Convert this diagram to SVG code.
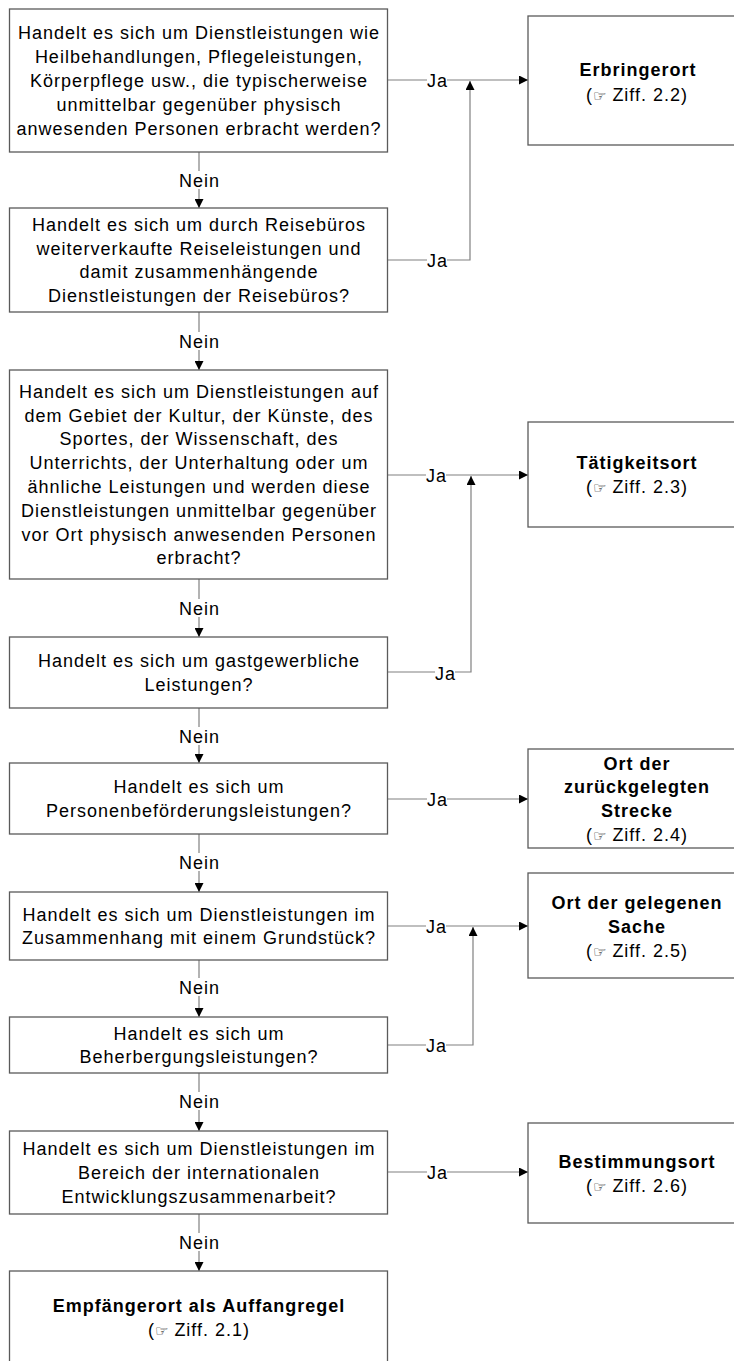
<svg xmlns="http://www.w3.org/2000/svg" width="734" height="1361" viewBox="0 0 734 1361">
<style>
.box{fill:#fff;stroke:#5a5a5a;stroke-width:1.3}
.t{font-family:"Liberation Sans",Arial,sans-serif;font-size:18px;letter-spacing:1px;fill:#000;text-anchor:middle}
.b{font-weight:bold}
.hand{font-family:"DejaVu Sans",sans-serif;font-size:15px;letter-spacing:0}
.ln{fill:none;stroke:#808080;stroke-width:1.2}
.lbg{fill:#fff}
</style>
<defs>
<marker id="ah" viewBox="0 0 10 10" refX="10" refY="5" markerWidth="10" markerHeight="9" markerUnits="userSpaceOnUse" orient="auto">
<path d="M0,0 L10,5 L0,10 z" fill="#000"/>
</marker>
</defs>
<rect width="734" height="1361" fill="#fff"/>

<g id="connectors">
<path class="ln" d="M199,152 V208" marker-end="url(#ah)"/>
<path class="ln" d="M199,312 V370" marker-end="url(#ah)"/>
<path class="ln" d="M199,579 V637" marker-end="url(#ah)"/>
<path class="ln" d="M199,708 V763" marker-end="url(#ah)"/>
<path class="ln" d="M199,834 V892" marker-end="url(#ah)"/>
<path class="ln" d="M199,960 V1017" marker-end="url(#ah)"/>
<path class="ln" d="M199,1073 V1131" marker-end="url(#ah)"/>
<path class="ln" d="M199,1214 V1271" marker-end="url(#ah)"/>

<path class="ln" d="M387.5,80 H528" marker-end="url(#ah)"/>
<path class="ln" d="M387.5,260 H470 V81" marker-end="url(#ah)"/>
<path class="ln" d="M387.5,475 H528" marker-end="url(#ah)"/>
<path class="ln" d="M387.5,672 H471 V476" marker-end="url(#ah)"/>
<path class="ln" d="M387.5,799 H528" marker-end="url(#ah)"/>
<path class="ln" d="M387.5,926 H528" marker-end="url(#ah)"/>
<path class="ln" d="M387.5,1045 H473 V927" marker-end="url(#ah)"/>
<path class="ln" d="M387.5,1172 H528" marker-end="url(#ah)"/>

<g id="labels">
<rect class="lbg" x="178" y="171" width="42" height="18"/><text class="t" x="199.5" y="186.5">Nein</text>
<rect class="lbg" x="178" y="332" width="42" height="18"/><text class="t" x="199.5" y="347.5">Nein</text>
<rect class="lbg" x="178" y="599" width="42" height="18"/><text class="t" x="199.5" y="614.5">Nein</text>
<rect class="lbg" x="178" y="727" width="42" height="18"/><text class="t" x="199.5" y="742.5">Nein</text>
<rect class="lbg" x="178" y="853" width="42" height="18"/><text class="t" x="199.5" y="868.5">Nein</text>
<rect class="lbg" x="178" y="978" width="42" height="18"/><text class="t" x="199.5" y="993.5">Nein</text>
<rect class="lbg" x="178" y="1092" width="42" height="18"/><text class="t" x="199.5" y="1107.5">Nein</text>
<rect class="lbg" x="178" y="1233" width="42" height="18"/><text class="t" x="199.5" y="1248.5">Nein</text>

<rect class="lbg" x="427" y="73" width="20" height="15"/><text class="t" x="437.5" y="87">Ja</text>
<rect class="lbg" x="427" y="253" width="20" height="15"/><text class="t" x="437.5" y="267">Ja</text>
<rect class="lbg" x="426" y="468" width="20" height="15"/><text class="t" x="436.5" y="482">Ja</text>
<rect class="lbg" x="435" y="666" width="20" height="15"/><text class="t" x="445.5" y="680">Ja</text>
<rect class="lbg" x="427" y="792" width="20" height="15"/><text class="t" x="437.5" y="806">Ja</text>
<rect class="lbg" x="426" y="919" width="20" height="15"/><text class="t" x="436.5" y="933">Ja</text>
<rect class="lbg" x="426" y="1038" width="20" height="15"/><text class="t" x="436.5" y="1052">Ja</text>
<rect class="lbg" x="427" y="1165" width="20" height="15"/><text class="t" x="437.5" y="1179">Ja</text>
</g>
</g>

<g id="q1">
<rect class="box" x="9.5" y="9" width="378" height="143"/>
<text class="t"><tspan x="199" y="39.4">Handelt es sich um Dienstleistungen wie</tspan><tspan x="199" y="63.2">Heilbehandlungen, Pflegeleistungen,</tspan><tspan x="199" y="87">Körperpflege usw., die typischerweise</tspan><tspan x="199" y="110.8">unmittelbar gegenüber physisch</tspan><tspan x="199" y="134.6">anwesenden Personen erbracht werden?</tspan></text>
</g>
<g id="q2">
<rect class="box" x="9.5" y="208" width="378" height="104"/>
<text class="t"><tspan x="199" y="230.8">Handelt es sich um durch Reisebüros</tspan><tspan x="199" y="254.6">weiterverkaufte Reiseleistungen und</tspan><tspan x="199" y="278.4">damit zusammenhängende</tspan><tspan x="199" y="302.2">Dienstleistungen der Reisebüros?</tspan></text>
</g>
<g id="q3">
<rect class="box" x="9.5" y="370" width="378" height="209"/>
<text class="t"><tspan x="199" y="397.7">Handelt es sich um Dienstleistungen auf</tspan><tspan x="199" y="421.5">dem Gebiet der Kultur, der Künste, des</tspan><tspan x="199" y="445.3">Sportes, der Wissenschaft, des</tspan><tspan x="199" y="469.1">Unterrichts, der Unterhaltung oder um</tspan><tspan x="199" y="492.9">ähnliche Leistungen und werden diese</tspan><tspan x="199" y="516.7">Dienstleistungen unmittelbar gegenüber</tspan><tspan x="199" y="540.5">vor Ort physisch anwesenden Personen</tspan><tspan x="199" y="564.3">erbracht?</tspan></text>
</g>
<g id="q4">
<rect class="box" x="9.5" y="637" width="378" height="71"/>
<text class="t"><tspan x="199" y="667.1">Handelt es sich um gastgewerbliche</tspan><tspan x="199" y="690.9">Leistungen?</tspan></text>
</g>
<g id="q5">
<rect class="box" x="9.5" y="763" width="378" height="71"/>
<text class="t"><tspan x="199" y="793.1">Handelt es sich um</tspan><tspan x="199" y="816.9">Personenbeförderungsleistungen?</tspan></text>
</g>
<g id="q6">
<rect class="box" x="9.5" y="892" width="378" height="68"/>
<text class="t"><tspan x="199" y="920.6">Handelt es sich um Dienstleistungen im</tspan><tspan x="199" y="944.4">Zusammenhang mit einem Grundstück?</tspan></text>
</g>
<g id="q7">
<rect class="box" x="9.5" y="1017" width="378" height="56"/>
<text class="t"><tspan x="199" y="1039.6">Handelt es sich um</tspan><tspan x="199" y="1063.4">Beherbergungsleistungen?</tspan></text>
</g>
<g id="q8">
<rect class="box" x="9.5" y="1131" width="378" height="83"/>
<text class="t"><tspan x="199" y="1155.2">Handelt es sich um Dienstleistungen im</tspan><tspan x="199" y="1179">Bereich der internationalen</tspan><tspan x="199" y="1202.8">Entwicklungszusammenarbeit?</tspan></text>
</g>
<g id="r-empfaenger">
<rect class="box" x="9.5" y="1271" width="378" height="110"/>
<text class="t b" x="199" y="1311.5">Empfängerort als Auffangregel</text>
<text class="t" x="199" y="1336">(<tspan class="hand">☞</tspan> Ziff. 2.1)</text>
</g>

<g id="r-erbringer">
<rect class="box" x="528" y="16" width="218" height="129"/>
<text class="t b" x="638" y="76">Erbringerort</text>
<text class="t" x="637" y="100.5">(<tspan class="hand">☞</tspan> Ziff. 2.2)</text>
</g>
<g id="r-taetigkeit">
<rect class="box" x="528" y="422" width="218" height="105"/>
<text class="t b" x="637" y="468.5">Tätigkeitsort</text>
<text class="t" x="637" y="492.5">(<tspan class="hand">☞</tspan> Ziff. 2.3)</text>
</g>
<g id="r-strecke">
<rect class="box" x="528" y="749" width="218" height="99"/>
<text class="t b" x="637" y="769.5">Ort der</text>
<text class="t b" x="637" y="793.3">zurückgelegten</text>
<text class="t b" x="637" y="817">Strecke</text>
<text class="t" x="637" y="841">(<tspan class="hand">☞</tspan> Ziff. 2.4)</text>
</g>
<g id="r-sache">
<rect class="box" x="528" y="873" width="218" height="105"/>
<text class="t b" x="637" y="908.5">Ort der gelegenen</text>
<text class="t b" x="637" y="932.5">Sache</text>
<text class="t" x="637" y="956.5">(<tspan class="hand">☞</tspan> Ziff. 2.5)</text>
</g>
<g id="r-bestimmung">
<rect class="box" x="528" y="1123" width="218" height="100"/>
<text class="t b" x="637" y="1167.5">Bestimmungsort</text>
<text class="t" x="637" y="1192">(<tspan class="hand">☞</tspan> Ziff. 2.6)</text>
</g>
</svg>
